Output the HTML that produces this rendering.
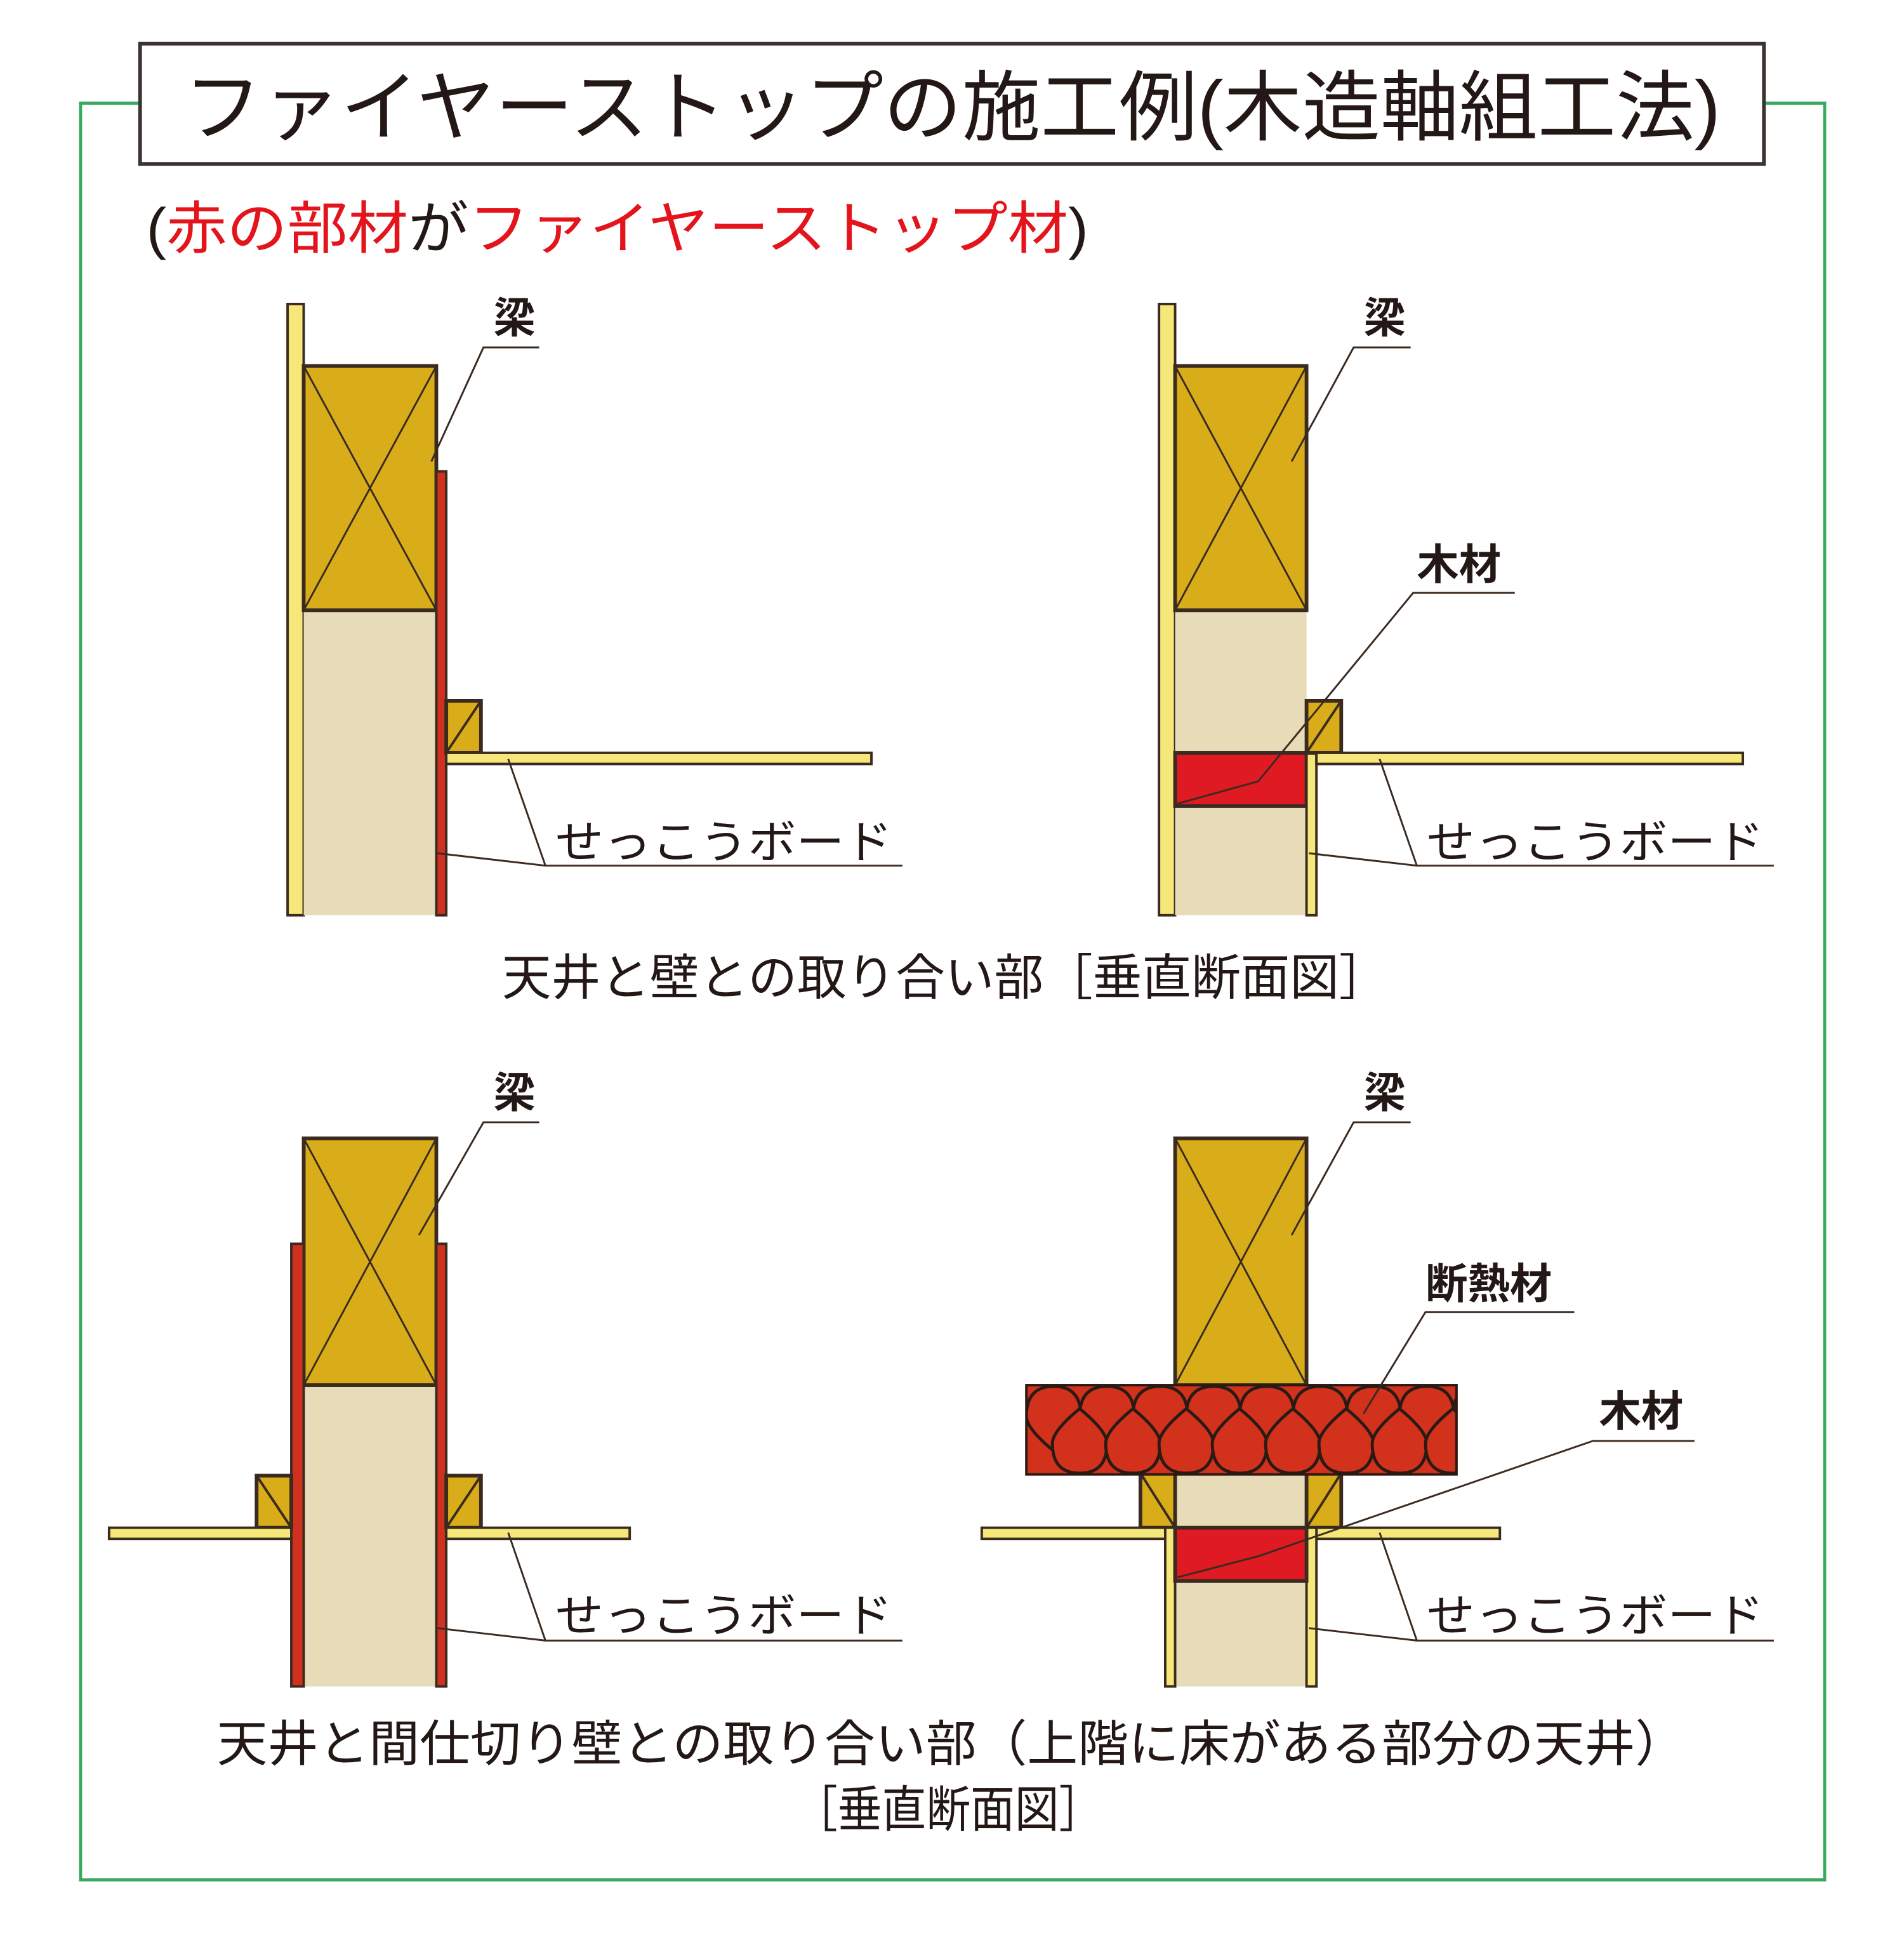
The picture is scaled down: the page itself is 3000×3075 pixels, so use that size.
<!DOCTYPE html>
<html><head><meta charset="utf-8"><style>
html,body{margin:0;padding:0;background:#fff;}
svg{display:block;}
text{font-family:"Liberation Sans","Noto Sans CJK JP",sans-serif;fill:#231815;}
</style></head><body>
<svg width="3000" height="3075" viewBox="0 0 1536 1574" xmlns="http://www.w3.org/2000/svg">
<defs>
<g id="ins">
  <ellipse cx="0" cy="0" rx="22" ry="24" fill="#d2311c" stroke="#2a1a14" stroke-width="3"/>
</g>
</defs>
<!-- frame -->
<rect x="65" y="83" width="1407" height="1433" fill="none" stroke="#3aa860" stroke-width="2.5"/>
<rect x="113" y="35" width="1310" height="97" fill="#fff" stroke="#3a3330" stroke-width="3"/>
<text x="768" y="108" font-size="62" text-anchor="middle" textLength="1240" lengthAdjust="spacingAndGlyphs">ファイヤーストップの施工例(木造軸組工法)</text>
<text x="118" y="200" font-size="46" textLength="760" lengthAdjust="spacingAndGlyphs">(<tspan style="fill:#e3141b">赤の部材</tspan>が<tspan style="fill:#e3141b">ファイヤーストップ材</tspan>)</text>

<g stroke="#3a2a20" stroke-width="2">
<!-- Panel 1 -->
<rect x="232" y="245" width="13" height="493" fill="#f5e77a"/>
<rect x="245" y="492" width="107" height="246" fill="#e8dbb8" stroke="none"/>
<rect x="245" y="295" width="107" height="197" fill="#d9ad1a" stroke-width="3"/>
<path d="M245 295L352 492M352 295L245 492" fill="none" stroke-width="1.5"/>
<rect x="352" y="380" width="8" height="358" fill="#d0311f"/>
<rect x="360" y="565" width="28" height="42" fill="#d9ad1a" stroke-width="3"/>
<path d="M360 607L388 565" stroke-width="2"/>
<rect x="360" y="607" width="343" height="9" fill="#f5e77a"/>
<path d="M348 372L390 280L435 280" fill="none" stroke-width="1.5"/>
<path d="M410 612L440 698L728 698M353 688L440 698" fill="none" stroke-width="1.5"/>

<!-- Panel 2 -->
<rect x="935" y="245" width="13" height="493" fill="#f5e77a"/>
<rect x="948" y="492" width="106" height="246" fill="#e8dbb8" stroke="none"/>
<rect x="948" y="295" width="106" height="197" fill="#d9ad1a" stroke-width="3"/>
<path d="M948 295L1054 492M1054 295L948 492" fill="none" stroke-width="1.5"/>
<rect x="948" y="607" width="106" height="43" fill="#e01a22" stroke-width="3"/>
<rect x="1054" y="607" width="8" height="131" fill="#f5e77a"/>
<rect x="1054" y="565" width="28" height="42" fill="#d9ad1a" stroke-width="3"/>
<path d="M1054 607L1082 565"/>
<rect x="1062" y="607" width="344" height="9" fill="#f5e77a"/>
<path d="M1042 372L1092 280L1138 280" fill="none" stroke-width="1.5"/>
<path d="M950 648L1015 630L1140 478L1222 478" fill="none" stroke-width="1.5"/>
<path d="M1113 612L1143 698L1431 698M1056 688L1143 698" fill="none" stroke-width="1.5"/>

<!-- Panel 3 -->
<rect x="245" y="1117" width="107" height="243" fill="#e8dbb8" stroke="none"/>
<rect x="245" y="918" width="107" height="199" fill="#d9ad1a" stroke-width="3"/>
<path d="M245 918L352 1117M352 918L245 1117" fill="none" stroke-width="1.5"/>
<rect x="235" y="1003" width="10" height="357" fill="#d0311f"/>
<rect x="352" y="1003" width="8" height="357" fill="#d0311f"/>
<rect x="207" y="1190" width="28" height="42" fill="#d9ad1a" stroke-width="3"/>
<path d="M207 1190L235 1232"/>
<rect x="360" y="1190" width="28" height="42" fill="#d9ad1a" stroke-width="3"/>
<path d="M360 1232L388 1190"/>
<rect x="88" y="1232" width="147" height="9" fill="#f5e77a"/>
<rect x="360" y="1232" width="148" height="9" fill="#f5e77a"/>
<path d="M338 996L390 905L435 905" fill="none" stroke-width="1.5"/>
<path d="M410 1236L440 1323L728 1323M353 1313L440 1323" fill="none" stroke-width="1.5"/>

<!-- Panel 4 -->
<rect x="948" y="1188" width="106" height="172" fill="#e8dbb8" stroke="none"/>
<rect x="948" y="918" width="106" height="199" fill="#d9ad1a" stroke-width="3"/>
<path d="M948 918L1054 1117M1054 918L948 1117" fill="none" stroke-width="1.5"/>
<rect x="920" y="1188" width="28" height="44" fill="#d9ad1a" stroke-width="3"/>
<path d="M920 1188L948 1232"/>
<rect x="1054" y="1188" width="28" height="44" fill="#d9ad1a" stroke-width="3"/>
<path d="M1054 1232L1082 1188"/>
<rect x="792" y="1232" width="150" height="9" fill="#f5e77a"/>
<rect x="1062" y="1232" width="148" height="9" fill="#f5e77a"/>
<rect x="940" y="1232" width="8" height="128" fill="#f5e77a"/>
<rect x="1054" y="1232" width="8" height="128" fill="#f5e77a"/>
<rect x="948" y="1232" width="106" height="43" fill="#e01a22" stroke-width="3"/>
</g>
<!-- insulation -->
<g>
<clipPath id="cp"><rect x="828" y="1116" width="347" height="74"/></clipPath>
<g clip-path="url(#cp)">
<rect x="828" y="1116" width="347" height="74" fill="#d2311c"/>
<g fill="#d2311c" stroke="#2a1a14" stroke-width="2.5">
<path d="M850 1118 q-22 0 -22 24 q0 10 22 28 q22 -18 22 -28 q0 -24 -22 -24z"/>
<path d="M893 1118 q-22 0 -22 24 q0 10 22 28 q22 -18 22 -28 q0 -24 -22 -24z"/>
<path d="M936 1118 q-22 0 -22 24 q0 10 22 28 q22 -18 22 -28 q0 -24 -22 -24z"/>
<path d="M979 1118 q-22 0 -22 24 q0 10 22 28 q22 -18 22 -28 q0 -24 -22 -24z"/>
<path d="M1022 1118 q-22 0 -22 24 q0 10 22 28 q22 -18 22 -28 q0 -24 -22 -24z"/>
<path d="M1065 1118 q-22 0 -22 24 q0 10 22 28 q22 -18 22 -28 q0 -24 -22 -24z"/>
<path d="M1108 1118 q-22 0 -22 24 q0 10 22 28 q22 -18 22 -28 q0 -24 -22 -24z"/>
<path d="M1151 1118 q-22 0 -22 24 q0 10 22 28 q22 -18 22 -28 q0 -24 -22 -24z"/>
<path d="M1194 1118 q-22 0 -22 24 q0 10 22 28 q22 -18 22 -28 q0 -24 -22 -24z"/>
<path d="M871 1188 q-22 0 -22 -24 q0 -10 22 -28 q22 18 22 28 q0 24 -22 24z"/>
<path d="M914 1188 q-22 0 -22 -24 q0 -10 22 -28 q22 18 22 28 q0 24 -22 24z"/>
<path d="M957 1188 q-22 0 -22 -24 q0 -10 22 -28 q22 18 22 28 q0 24 -22 24z"/>
<path d="M1000 1188 q-22 0 -22 -24 q0 -10 22 -28 q22 18 22 28 q0 24 -22 24z"/>
<path d="M1043 1188 q-22 0 -22 -24 q0 -10 22 -28 q22 18 22 28 q0 24 -22 24z"/>
<path d="M1086 1188 q-22 0 -22 -24 q0 -10 22 -28 q22 18 22 28 q0 24 -22 24z"/>
<path d="M1129 1188 q-22 0 -22 -24 q0 -10 22 -28 q22 18 22 28 q0 24 -22 24z"/>
<path d="M1172 1188 q-22 0 -22 -24 q0 -10 22 -28 q22 18 22 28 q0 24 -22 24z"/>
</g>
</g>
<rect x="828" y="1117" width="347" height="72" fill="none" stroke="#2a1a14" stroke-width="2"/>
</g>
<g stroke="#3a2a20" stroke-width="1.5" fill="none">
<path d="M1042 996L1092 905L1138 905"/>
<path d="M1100 1140L1150 1058L1270 1058"/>
<path d="M950 1272L1015 1255L1285 1162L1367 1162"/>
<path d="M1113 1236L1143 1323L1431 1323M1056 1313L1143 1323"/>
</g>

<!-- labels -->
<g font-size="34" font-weight="bold">
<text x="398" y="268">梁</text>
<text x="1100" y="268">梁</text>
<text x="398" y="893">梁</text>
<text x="1100" y="893">梁</text>
<text x="1143" y="467">木材</text>
<text x="1150" y="1047">断熱材</text>
<text x="1290" y="1150">木材</text>
</g>
<g font-size="37">
<text x="448" y="692" textLength="272" lengthAdjust="spacingAndGlyphs">せっこうボード</text>
<text x="1151" y="692" textLength="272" lengthAdjust="spacingAndGlyphs">せっこうボード</text>
<text x="448" y="1316" textLength="272" lengthAdjust="spacingAndGlyphs">せっこうボード</text>
<text x="1151" y="1316" textLength="272" lengthAdjust="spacingAndGlyphs">せっこうボード</text>
</g>
<g font-size="40">
<text x="405" y="802" textLength="715" lengthAdjust="spacingAndGlyphs">天井と壁との取り合い部［垂直断面図］</text>
<text x="175" y="1420" textLength="1185" lengthAdjust="spacingAndGlyphs">天井と間仕切り壁との取り合い部（上階に床がある部分の天井）</text>
<text x="640" y="1473" textLength="250" lengthAdjust="spacingAndGlyphs">［垂直断面図］</text>
</g>
</svg>
</body></html>
